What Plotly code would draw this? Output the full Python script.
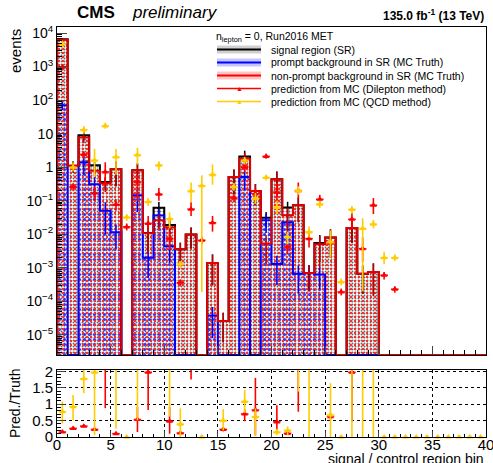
import plotly.graph_objects as go

# ---------------- data ----------------
bin_index = list(range(40))
bin_centers = [b + 0.5 for b in bin_index]
bin_edges = list(range(41))

sr_events = [6500, 1.1, 9.0, 1.15, 0.36, 0.87, 0, 0.81, 0.011, 0.062,
             0.019, 0.0036, 0.0098, 0, 0.0014, 2.6e-5, 0.51, 2.1, 0.196, 0.031,
             0.44, 0.063, 0.073, 7e-4, 0.0055, 0.008, 0, 0.0155, 6.7e-4, 7.5e-4,
             0, 0, 0, 0, 0, 0, 0, 0, 0, 0]
sr_err = [500, 0.4, 2.5, 0.3, 0.15, 0.6, 0, 0.5, 0.008, 0.03,
          0.01, 0.002, 0.006, 0, 0.0011, 2e-5, 0.35, 1.0, 0.12, 0.015,
          0.3, 0.03, 0.05, 5e-4, 0.004, 0.006, 0, 0.01, 5e-4, 6e-4,
          0, 0, 0, 0, 0, 0, 0, 0, 0, 0]

prompt_events = [70, 0, 1.4, 0.31, 0.05, 0.0115, 0, 0.146, 0.002, 0.036,
                 0.0044, 0, 0, 0, 3.8e-5, 0, 0, 0.51, 0, 0.026,
                 0.0013, 0.023, 6.7e-4, 7e-4, 6.3e-4, 0, 0, 0, 0, 0,
                 0, 0, 0, 0, 0, 0, 0, 0, 0, 0]
prompt_err = [20, 0, 0.8, 0.2, 0.04, 0.008, 0, 0.1, 0.0015, 0.02,
              0.003, 0, 0, 0, 3e-5, 0, 0, 0.3, 0, 0.015,
              0.001, 0.012, 5e-4, 5e-4, 4e-4, 0, 0, 0, 0, 0,
              0, 0, 0, 0, 0, 0, 0, 0, 0, 0]

nonprompt_events = [6300, 1.1, 7.7, 0.78, 0.33, 0.87, 0, 0.81, 0.0107, 0.026,
                    0.016, 0.0036, 0.0098, 0, 0.0014, 2.6e-5, 0.51, 1.8, 0.196, 0.0053,
                    0.44, 0.037, 0.073, 7e-4, 0.005, 0.008, 0, 0.0155, 6.7e-4, 7.5e-4,
                    0, 0, 0, 0, 0, 0, 0, 0, 0, 0]
nonprompt_err = [300, 0.3, 2.5, 0.25, 0.15, 0.6, 0, 0.5, 0.008, 0.012,
                 0.01, 0.002, 0.006, 0, 0.0011, 2e-5, 0.35, 0.9, 0.12, 0.004,
                 0.3, 0.025, 0.05, 5e-4, 0.004, 0.006, 0, 0.01, 5e-4, 6e-4,
                 0, 0, 0, 0, 0, 0, 0, 0, 0, 0]

# predictions: value, lower end, upper end of the error bar
dilep_pred = [950, 0.26, 2.4, 0.17, 0.72, 0.077, 0.0166, 0.36, 0.021, 0.156,
              0.0074, 3.6e-4, 0.056, 0.0066, 0.022, None, 0.12, 1.0, 0.16, 2.1,
              0.18, 0.0042, 0.2, 0.0074, 0.11, 0.0055, 1.9e-4, 0.028, 0.0037, 0.073,
              6e-4, 2.3e-4, None, None, None, None, None, None, None, None]
dilep_lo = [780, 0.2, 1.8, 0.1, 0.3, 0.05, 0.013, 0.1, 0.012, 0.1,
            0.0035, 2.8e-4, 0.035, 0.005, 0.012, None, 0.09, 0.7, 0.11, 1.8,
            0.09, 0.0025, 0.12, 0.004, 0.08, 0.0035, 1.5e-4, 0.015, 0.0015, 0.04,
            4.5e-4, 1.8e-4, None, None, None, None, None, None, None, None]
dilep_hi = [1150, 0.33, 3.0, 0.27, 1.4, 0.11, 0.021, 0.6, 0.035, 0.24,
            0.012, 4.5e-4, 0.09, 0.0085, 0.035, None, 0.16, 1.3, 0.23, 2.5,
            0.33, 0.007, 0.35, 0.012, 0.15, 0.008, 2.4e-4, 0.045, 0.008, 0.12,
            7.5e-4, 2.8e-4, None, None, None, None, None, None, None, None]

qcd_pred = [4700, 1.0, 13, 1.6, 17, 2.0, 0.032, 2.3, 0.093, 1.15,
            0.029, 0.0013, 0.195, 0.28, 0.6, None, 0.26, 1.6, 0.116, 0.49,
            0.063, 0.0083, 0.2, 0.0117, 0.079, 0.0059, 3.8e-4, 0.055, 0.0148, 0.02,
            0.002, 0.002, None, None, None, None, None, None, None, None]
qcd_lo = [3500, 0.75, 10, 0.5, 14, 0.6, 0.025, 1.2, 0.07, 0.8,
          0.015, 0.001, 0.09, 1.9e-4, 0.3, None, 0.2, 1.2, 0.08, 0.4,
          0.04, 0.005, 0.15, 0.008, 0.06, 0.002, 3e-4, 0.04, 2e-4, 0.015,
          0.0013, 0.0016, None, None, None, None, None, None, None, None]
qcd_hi = [6000, 1.4, 17, 3.5, 21, 3.5, 0.04, 3.8, 0.12, 1.5,
          0.045, 0.0016, 0.35, 0.57, 1.2, None, 0.34, 2.0, 0.17, 0.6,
          0.1, 0.012, 0.27, 0.017, 0.1, 0.013, 4.8e-4, 0.07, 0.03, 0.027,
          0.003, 0.0025, None, None, None, None, None, None, None, None]

# ratio panel (Pred./Truth), value and down/up errors
ratio_dilep = [0.15, 0.26, 0.33, 0.23, 2.5, 0.10, None, 0.53, 1.97, None,
               0.48, 0.12, 3.0, None, None, 0.23, None, 0.70, 0.82, None,
               0.46, 0.11, 3.0, None, None, 0.62, None, 1.97, None, None,
               None, None, None, None, None, None, None, None, None, None]
ratio_dilep_dn = [0.03, 0.04, 0.03, 0.04, 1.62, 0.03, None, 0.38, 1.15, None,
                  0.38, 0.04, 1.25, None, None, 0.06, None, 0.22, 0.77, None,
                  0.26, 0.05, 2.23, None, None, 0.1, None, 1.5, None, None,
                  None, None, None, None, None, None, None, None, None, None]
ratio_dilep_up = [0.03, 0.04, 0.03, 0.04, 0.5, 0.03, None, 0.39, 0.5, None,
                  0.44, 0.04, 0.5, None, None, 0.06, None, 0.15, 0.98, None,
                  0.51, 0.05, 0.5, None, None, 0.1, None, 0.5, None, None,
                  None, None, None, None, None, None, None, None, None, None]

ratio_qcd = [0.77, 0.92, 1.77, 1.97, None, 3.0, 0, 3.0, None, None,
             3.0, 0.39, None, 0, None, 0.5, None, 1.08, 0.62, None,
             0.15, 0.2, 3.0, 3.0, None, 0.67, 0, 3.0, 3.0, 3.0,
             0, 0, 0, 0, 0, 0, 0, 0, 0, 0]
ratio_qcd_dn = [0.36, 0.41, 0.44, 1.92, None, 2.74, 0, 2.49, None, None,
                2.38, 0.39, None, 0, None, 0.3, None, 0.35, 0.6, None,
                0.1, 0.15, 1.62, 3.0, None, 0.67, 0, 3.0, 3.0, 3.0,
                0, 0, 0, 0, 0, 0, 0, 0, 0, 0]
ratio_qcd_up = [0.31, 0.36, 0.5, 0.5, None, 0.5, 0, 0.5, None, None,
                0.5, 0.48, None, 0, None, 0.35, None, 0.36, 0.25, None,
                0.1, 0.12, 0.5, 0.5, None, 0.97, 0, 0.5, 0.5, 0.5,
                0, 0, 0, 0, 0, 0, 0, 0, 0, 0]

ytick_vals = [1e-5, 1e-4, 1e-3, 1e-2, 1e-1, 1, 10, 100, 1000, 10000]
ytick_text = ["10<sup>−5</sup>", "10<sup>−4</sup>", "10<sup>−3</sup>", "10<sup>−2</sup>",
              "10<sup>−1</sup>", "1", "10", "10<sup>2</sup>", "10<sup>3</sup>", "10<sup>4</sup>"]
xtick_vals = [0, 5, 10, 15, 20, 25, 30, 35, 40]

# ---------------- styling constants ----------------
W, H = 493, 463
ML, MR, MT, MB = 57, 7, 27, 26
LOGMIN, LOGMAX = -5.6, 4.18
YFLOOR = 10 ** LOGMIN
FONT = "Liberation Sans, Arial, sans-serif"
RED = "#FF0000"
HRED = "#E00000"
BLUE = "#0000FF"
GOLD = "#FFCC00"

fig = go.Figure()


def step_xy(vals):
    xs = [bin_edges[0]]
    ys = [YFLOOR]
    for i, v in enumerate(vals):
        vv = v if v > 0 else YFLOOR
        xs += [bin_edges[i], bin_edges[i + 1]]
        ys += [vv, vv]
    xs.append(bin_edges[-1])
    ys.append(YFLOOR)
    return xs, ys


def err_arrays(vals, errs):
    xs, ys, up, dn = [], [], [], []
    for c, v, e in zip(bin_centers, vals, errs):
        if v > 0 and e > 0:
            xs.append(c)
            ys.append(v)
            up.append(e)
            dn.append(min(e, v * 0.999))
    return xs, ys, up, dn


# filled histograms (dotted pattern)
for vals, col, size, sol in [(sr_events, "#666666", 3, 0.3), (prompt_events, "#3333FF", 5, 0.3),
                             (nonprompt_events, "#F03030", 4, 0.28)]:
    fig.add_trace(go.Bar(
        x=bin_centers, y=[v if v > 0 else None for v in vals], width=1.0,
        marker=dict(color=col, line=dict(width=0),
                    pattern=dict(shape=".", size=size, solidity=sol, fillmode="replace")),
        xaxis="x", yaxis="y", showlegend=False, hoverinfo="skip"))

# outlines + error bars
for vals, errs, col, ecol in [(sr_events, sr_err, "#000000", "#000000"),
                              (prompt_events, prompt_err, BLUE, BLUE),
                              (nonprompt_events, nonprompt_err, HRED, "#C00000")]:
    xs, ys, up, dn = err_arrays(vals, errs)
    fig.add_trace(go.Scatter(
        x=xs, y=ys, mode="markers", marker=dict(size=1, color=ecol),
        error_y=dict(type="data", symmetric=False, array=up, arrayminus=dn,
                     color=ecol, thickness=1.5, width=0),
        xaxis="x", yaxis="y", showlegend=False, hoverinfo="skip"))
    sx, sy = step_xy(vals)
    fig.add_trace(go.Scatter(
        x=sx, y=sy, mode="lines", line=dict(color=col, width=2, shape="hv"),
        xaxis="x", yaxis="y", showlegend=False, hoverinfo="skip"))


def pred_trace(vals, lo, hi, col):
    xs, ys, up, dn = [], [], [], []
    for c, v, l, h in zip(bin_centers, vals, lo, hi):
        if v is None:
            continue
        xs.append(c)
        ys.append(v)
        up.append(h - v)
        dn.append(v - l)
    return go.Scatter(
        x=xs, y=ys, mode="markers",
        marker=dict(symbol="triangle-up", size=6, color=col),
        error_y=dict(type="data", symmetric=False, array=up, arrayminus=dn,
                     color=col, thickness=1.6, width=0),
        error_x=dict(type="constant", value=0.35, color=col, thickness=1.6, width=0),
        xaxis="x", yaxis="y", showlegend=False, hoverinfo="skip")


fig.add_trace(pred_trace(dilep_pred, dilep_lo, dilep_hi, RED))
fig.add_trace(pred_trace(qcd_pred, qcd_lo, qcd_hi, GOLD))


def ratio_trace(vals, dn, up, col, zero_only=False):
    xs, ys, eu, ed = [], [], [], []
    for c, v, d, u in zip(bin_centers, vals, dn, up):
        if v is None:
            continue
        if zero_only != (v == 0):
            continue
        xs.append(c)
        ys.append(v)
        eu.append(u)
        ed.append(d)
    kw = {}
    if not zero_only:
        kw = dict(error_y=dict(type="data", symmetric=False, array=eu, arrayminus=ed,
                               color=col, thickness=1.6, width=0),
                  error_x=dict(type="constant", value=0.35, color=col, thickness=1.6, width=0))
    return go.Scatter(x=xs, y=ys, mode="markers",
                      marker=dict(symbol="triangle-up", size=6, color=col),
                      xaxis="x2", yaxis="y2", showlegend=False, hoverinfo="skip",
                      cliponaxis=not zero_only, **kw)


fig.add_trace(ratio_trace(ratio_dilep, ratio_dilep_dn, ratio_dilep_up, RED))
fig.add_trace(ratio_trace(ratio_qcd, ratio_qcd_dn, ratio_qcd_up, GOLD))
fig.add_trace(ratio_trace(ratio_qcd, ratio_qcd_dn, ratio_qcd_up, GOLD, zero_only=True))

PW = W - ML - MR
PH = H - MT - MB


def px(X):
    return (X - ML) / PW


def py(Y):
    return (H - MB - Y) / PH


main_dom = [py(355), 1.0]
ratio_dom = [0.0, py(370)]

common = dict(showline=True, linecolor="black", linewidth=1, mirror=True,
              zeroline=False, automargin=False, ticklabeloverflow="allow")

fig.update_layout(
    width=W, height=H,
    margin=dict(l=ML, r=MR, t=MT, b=MB, autoexpand=False),
    paper_bgcolor="white", plot_bgcolor="white",
    barmode="overlay", bargap=0,
    font=dict(family=FONT, color="black"),
    xaxis=dict(domain=[0, 1], range=[0, 40], anchor="y", showticklabels=False,
               ticks="inside", tickvals=xtick_vals, ticklen=9,
               minor=dict(ticks="inside", dtick=1, ticklen=5, tickcolor="black"),
               showgrid=False, **common),
    yaxis=dict(domain=main_dom, type="log", range=[LOGMIN, LOGMAX], anchor="x",
               tickvals=ytick_vals, ticktext=ytick_text, ticks="inside", ticklen=10,
               tickfont=dict(size=14),
               minor=dict(ticks="inside", ticklen=5, tickcolor="black",
                          tickvals=[m * 10 ** k for k in range(-6, 5) for m in range(2, 10)]),
               showgrid=False, **common),
    xaxis2=dict(domain=[0, 1], range=[0, 40], anchor="y2",
                tickvals=xtick_vals, ticks="inside", ticklen=6,
                tickfont=dict(size=15), ticklabelstandoff=-6,
                minor=dict(ticks="inside", dtick=1, ticklen=3, tickcolor="black"),
                showgrid=True, gridcolor="black", griddash="dot", gridwidth=1, **common),
    yaxis2=dict(domain=ratio_dom, range=[0, 2.04], anchor="x2",
                tickvals=[0, 0.5, 1, 1.5, 2], ticktext=["0", "0.5", "1", "1.5", "2"],
                ticks="inside", ticklen=8, tickfont=dict(size=15),
                minor=dict(ticks="inside", dtick=0.1, ticklen=4, tickcolor="black"),
                showgrid=True, gridcolor="black", griddash="dot", gridwidth=1, **common),
)

ann = []
shapes = []
ann.append(dict(x=px(75), y=py(13), xref="paper", yref="paper", xanchor="left", yanchor="middle",
                text="<b>CMS</b>", showarrow=False, font=dict(size=17)))
ann.append(dict(x=px(130), y=py(13), xref="paper", yref="paper", xanchor="left", yanchor="middle",
                text="<i>preliminary</i>", showarrow=False, font=dict(size=17)))
ann.append(dict(x=1.0, y=py(15), xref="paper", yref="paper", xanchor="right", yanchor="middle",
                text="<b>135.0 fb<sup>-1</sup> (13 TeV)</b>", showarrow=False, font=dict(size=12)))
ann.append(dict(x=px(15), y=py(27), xref="paper", yref="paper", xanchor="center", yanchor="top",
                text="events", textangle=-90, showarrow=False, font=dict(size=15)))
ann.append(dict(x=px(15), y=py(403), xref="paper", yref="paper", xanchor="center", yanchor="middle",
                text="Pred./Truth", textangle=-90, showarrow=False, font=dict(size=14)))
ann.append(dict(x=1.0, y=py(459), xref="paper", yref="paper", xanchor="right", yanchor="middle",
                text="signal / control region bin", showarrow=False, font=dict(size=14)))

# legend
ann.append(dict(x=px(214), y=py(37), xref="paper", yref="paper", xanchor="left", yanchor="middle",
                text="n<sub>lepton</sub> = 0, Run2016 MET", showarrow=False, font=dict(size=10.5)))
leg_items = [
    ("signal region (SR)", "rgba(120,120,120,0.35)", "black", False),
    ("prompt background in SR (MC Truth)", "rgba(90,90,255,0.35)", BLUE, False),
    ("non-prompt background in SR (MC Truth)", "rgba(255,90,90,0.35)", RED, False),
    ("prediction from MC (Dilepton method)", None, RED, True),
    ("prediction from MC (QCD method)", None, GOLD, True),
]
leg_y = [49.5, 62.5, 75.5, 88.5, 101.5]
for (label, fill, lc, is_marker), Y in zip(leg_items, leg_y):
    if fill:
        shapes.append(dict(type="rect", xref="paper", yref="paper", x0=px(217), x1=px(261),
                           y0=py(Y + 4), y1=py(Y - 4), fillcolor=fill, line=dict(width=0)))
    shapes.append(dict(type="line", xref="paper", yref="paper", x0=px(217), x1=px(261),
                       y0=py(Y), y1=py(Y), line=dict(color=lc, width=2 if not is_marker else 1.5)))
    if is_marker:
        ann.append(dict(x=px(239), y=py(Y), xref="paper", yref="paper", xanchor="center", yanchor="middle",
                        text="▲", showarrow=False, font=dict(size=7, color=lc)))
    ann.append(dict(x=px(269), y=py(Y), xref="paper", yref="paper", xanchor="left", yanchor="middle",
                    text=label, showarrow=False, font=dict(size=10.5)))

fig.update_layout(annotations=ann, shapes=shapes)
fig.write_html("out.html", config={"displayModeBar": False},
               post_script="document.body.style.margin='0';document.body.style.padding='0';")
